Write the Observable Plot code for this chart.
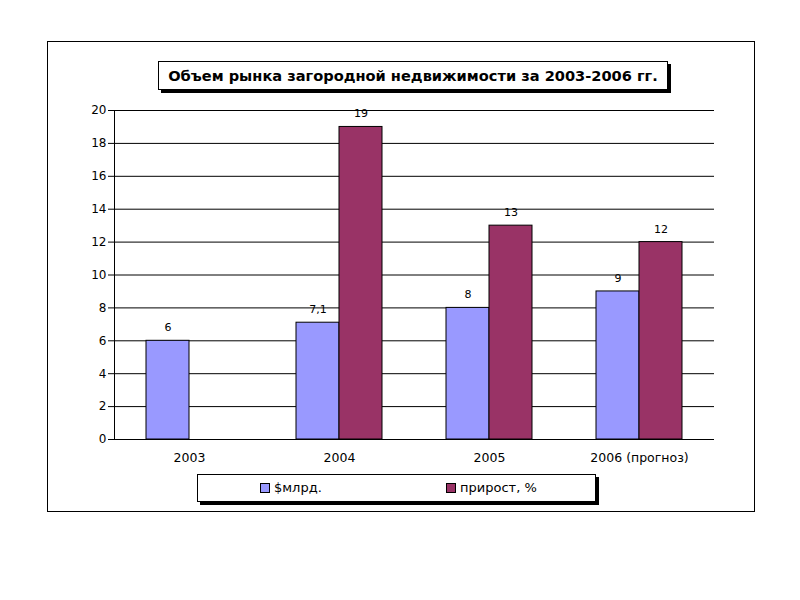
<!DOCTYPE html>
<html>
<head>
<meta charset="utf-8">
<script src="https://cdn.jsdelivr.net/npm/d3@7"></script>
<script src="https://cdn.jsdelivr.net/npm/@observablehq/plot@0.6"></script>
<style>
  html, body { margin: 0; padding: 0; background: #fff; }
  #wrap { position: relative; width: 800px; height: 600px; font-family: "DejaVu Sans", sans-serif; }
  #wrap svg { position: absolute; left: 0; top: 0; }
  .frame { position: absolute; left: 47px; top: 41px; width: 706px; height: 469px; border: 1px solid #000; box-sizing: content-box; }
  .title { position: absolute; left: 158px; top: 61px; width: 508px; height: 27px; border: 1px solid #000; background: #fff;
           box-shadow: 3px 3px 0 #000; font-weight: bold; font-size: 14.6px; line-height: 27px; text-align: center; color: #000; white-space: nowrap; }
  .legend { position: absolute; left: 197px; top: 474px; width: 397px; height: 26px; border: 1px solid #000; background: #fff;
            box-shadow: 3px 3px 0 #000; font-size: 13px; color: #000; }
  .item { position: absolute; top: 0; line-height: 26px; white-space: nowrap; }
  .sw { display: inline-block; width: 8px; height: 8px; border: 1px solid #000; margin-right: 4px; vertical-align: -1px; }
</style>
</head>
<body>
<div id="wrap"></div>
<script>
const titleText = "Объем рынка загородной недвижимости за 2003-2006 гг.";
const categories = ["2003", "2004", "2005", "2006 (прогноз)"];
const seriesNames = ["$млрд.", "прирост, %"];
const billions = [6, 7.1, 8, 9];
const growth = [null, 19, 13, 12];
const yTicks = [0, 2, 4, 6, 8, 10, 12, 14, 16, 18, 20];
const colors = ["#9999FF", "#993366"];

const fmt = v => String(v).replace(".", ",");
const s1 = categories.map((c, i) => ({cat: c, value: billions[i]})).filter(d => d.value != null);
const s2 = categories.map((c, i) => ({cat: c, value: growth[i]})).filter(d => d.value != null);

const chart = Plot.plot({
  width: 800,
  height: 600,
  marginLeft: 114,
  marginRight: 86,
  marginTop: 110,
  marginBottom: 161,
  style: {fontFamily: "DejaVu Sans, sans-serif", fontSize: "12px", color: "#000", background: "transparent"},
  x: {domain: categories, padding: 0, label: null},
  y: {domain: [0, 20], label: null},
  marks: [
    Plot.ruleY(yTicks, {stroke: "#000", strokeWidth: 1}),
    Plot.ruleX([categories[0]], {dx: -75, y1: 0, y2: 20, stroke: "#000"}),
    Plot.barY(s1, {x: "cat", y: "value", fill: colors[0], stroke: "#000", strokeWidth: 1, insetLeft: 32, insetRight: 75}),
    Plot.barY(s2, {x: "cat", y: "value", fill: colors[1], stroke: "#000", strokeWidth: 1, insetLeft: 75, insetRight: 32}),
    Plot.text(s1, {x: "cat", y: "value", text: d => fmt(d.value), dx: -21.5, dy: -13, fill: "#000", fontSize: 11}),
    Plot.text(s2, {x: "cat", y: "value", text: d => fmt(d.value), dx: 21.5, dy: -13, fill: "#000", fontSize: 11}),
    Plot.axisY({ticks: yTicks, tickSize: 6, tickPadding: 2, label: null, fontSize: 12}),
    Plot.axisX({tickSize: 0, tickPadding: 14, label: null, fontSize: 12.5})
  ]
});

const wrap = document.getElementById("wrap");
const frame = document.createElement("div");
frame.className = "frame";
wrap.appendChild(frame);
wrap.appendChild(chart);

const title = document.createElement("div");
title.className = "title";
title.textContent = titleText;
wrap.appendChild(title);

const legend = document.createElement("div");
legend.className = "legend";
const lefts = [62, 248];
seriesNames.forEach((n, i) => {
  const it = document.createElement("div");
  it.className = "item";
  it.style.left = lefts[i] + "px";
  const sw = document.createElement("span");
  sw.className = "sw";
  sw.style.background = colors[i];
  it.appendChild(sw);
  it.appendChild(document.createTextNode(n));
  legend.appendChild(it);
});
wrap.appendChild(legend);
</script>
</body>
</html>
